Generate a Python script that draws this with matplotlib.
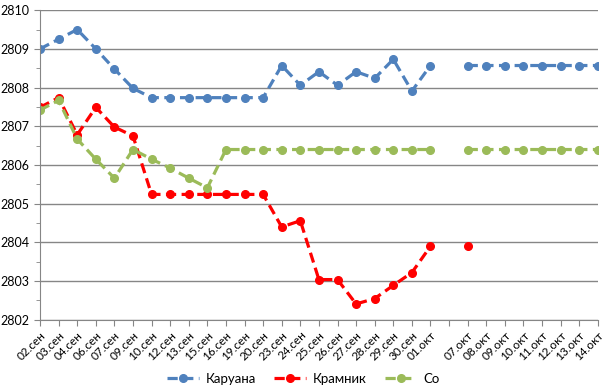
import numpy as np
import matplotlib.pyplot as plt

plt.rcParams['font.family'] = ['Lato', 'DejaVu Sans']

dates = ['02.сен', '03.сен', '04.сен', '06.сен', '07.сен', '09.сен', '10.сен', '12.сен',
         '13.сен', '15.сен', '16.сен', '19.сен', '20.сен', '23.сен', '24.сен', '25.сен',
         '26.сен', '27.сен', '28.сен', '29.сен', '30.сен', '01.окт', '',
         '07.окт', '08.окт', '09.окт', '10.окт', '11.окт', '12.окт', '13.окт', '14.окт']

nan = np.nan
caruana = [2809.0, 2809.25, 2809.5, 2809.0, 2808.48, 2807.98, 2807.74, 2807.74,
           2807.74, 2807.74, 2807.74, 2807.74, 2807.74, 2808.57, 2808.06, 2808.41,
           2808.06, 2808.41, 2808.24, 2808.73, 2807.91, 2808.57, nan,
           2808.57, 2808.57, 2808.57, 2808.57, 2808.57, 2808.57, 2808.57, 2808.57]
kramnik = [2807.49, 2807.74, 2806.78, 2807.49, 2806.98, 2806.75, 2805.24, 2805.24,
           2805.24, 2805.24, 2805.24, 2805.24, 2805.24, 2804.40, 2804.56, 2803.04,
           2803.04, 2802.41, 2802.55, 2802.89, 2803.22, 2803.90, nan,
           2803.90, nan, nan, nan, nan, nan, nan, nan]
so = [2807.42, 2807.67, 2806.67, 2806.15, 2805.66, 2806.40, 2806.15, 2805.92,
      2805.66, 2805.41, 2806.40, 2806.40, 2806.40, 2806.40, 2806.40, 2806.40,
      2806.40, 2806.40, 2806.40, 2806.40, 2806.40, 2806.40, nan,
      2806.40, 2806.40, 2806.40, 2806.40, 2806.40, 2806.40, 2806.40, 2806.40]

x = np.arange(len(dates))

fig = plt.figure(figsize=(6.1, 3.91), dpi=100)
ax = fig.add_axes([0.0656, 0.182, 0.9144, 0.792])

for vals, col, name in [(caruana, '#4F81BD', 'Каруана'),
                        (kramnik, '#FF0000', 'Крамник'),
                        (so, '#9BBB59', 'Со')]:
    ax.plot(x, vals, color=col, lw=2.3, ls=(0, (3.2, 1.7)), marker='o',
            markersize=5.5, label=name)

ax.set_xlim(0, len(dates) - 1)
ax.set_ylim(2802, 2810)
ax.set_yticks(range(2802, 2811))
ax.set_yticks(np.arange(2802.5, 2810, 1), minor=True)
ax.set_xticks(x)
ax.set_xticklabels(dates, rotation=45, ha='right', rotation_mode='anchor', fontsize=8.5)
ax.tick_params(axis='y', labelsize=9, length=4, color='#868686')
ax.tick_params(axis='y', which='minor', length=3, color='#868686')
ax.tick_params(axis='x', length=4, color='#868686', pad=3)
ax.grid(axis='y', color='#868686', lw=1)
ax.set_axisbelow(True)
for s in ['top', 'right']:
    ax.spines[s].set_visible(False)
for s in ['left', 'bottom']:
    ax.spines[s].set_color('#868686')

fig.legend(loc='center', bbox_to_anchor=(0.497, 0.031), ncol=3, frameon=False,
           fontsize=9.5, handlelength=2.4, handletextpad=0.5, columnspacing=1.4,
           borderpad=0)

fig.savefig('out.png')
